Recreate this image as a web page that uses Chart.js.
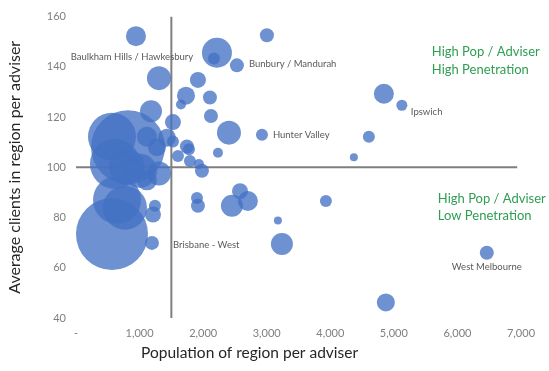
<!DOCTYPE html>
<html>
<head>
<meta charset="utf-8">
<script src="https://cdn.jsdelivr.net/npm/chart.js@4.4.1/dist/chart.umd.min.js"></script>
<style>
  html, body { margin: 0; background: #fff; }
  #wrap { width: 549px; height: 371px; }
</style>
</head>
<body>
<div id="wrap"><canvas id="chart"></canvas></div>
<script>
// bubbles: population per adviser, avg clients per adviser, bubble size (radius)
const popPerAdviser = [
  943, 2217, 2170, 2531, 3003, 1305, 1918, 1730, 1651, 2107,
  2123, 2406, 2925, 2233, 1180, 1525, 4843, 5126, 4607, 4371,
  3931, 3176, 3239, 4874, 6462, 1903, 1918, 2580, 2453, 2704,
  1242, 1211, 1195, 566, 645, 770, 566, 818, 613, 802,
  1006, 1305, 1116, 1116, 1274, 1430, 1525, 1604, 1745, 1777,
  1792, 1934, 1981
];
const clientsPerAdviser = [
  152.2, 145.6, 143.3, 140.6, 152.6, 135.5, 134.8, 128.5, 125.0, 127.8,
  120.4, 113.8, 113.0, 105.8, 122.3, 118.0, 129.3, 124.7, 112.2, 104.0,
  86.6, 78.8, 69.5, 46.2, 66.0, 87.8, 84.7, 90.5, 84.7, 86.6,
  84.7, 81.2, 69.9, 73.4, 87.0, 83.9, 112.2, 108.0, 101.4, 100.2,
  98.6, 97.5, 94.8, 112.2, 108.0, 111.8, 110.3, 104.5, 108.3, 107.2,
  102.5, 101.3, 98.6
];
const bubbleSize = [
  10, 15, 6, 7, 7, 12, 8, 9, 5, 7,
  7, 12, 6, 5, 11, 8, 10, 5.5, 6, 4,
  6, 4, 11, 9, 7, 6, 7, 8, 11, 10,
  6, 8, 7, 36, 24, 22, 24, 37, 25, 18,
  17, 12, 10, 10, 9, 9, 6, 6, 7, 6,
  6, 5, 7
];

const xTickValues = [0, 1000, 2000, 3000, 4000, 5000, 6000, 7000];
const yTickValues = [40, 60, 80, 100, 120, 140, 160];

// quadrant divider lines
const dividerX = 1500;
const dividerY = 100;

// point labels (anchored in data units)
const labelText = ["Baulkham Hills / Hawkesbury", "Bunbury / Mandurah", "Hunter Valley", "Ipswich", "Brisbane - West", "West Melbourne"];
const labelX = [880, 2720, 3097, 5267, 1525, 6462];
const labelY = [144.1, 141.0, 113.0, 121.9, 69.1, 60.2];
const labelAlign = ["center", "left", "left", "left", "left", "center"];

// quadrant notes
const noteText = ["High Pop / Adviser", "High Penetration", "High Pop / Adviser", "Low Penetration"];
const noteX = [5597, 5597, 5692, 5692];
const noteY = [146.0, 139.0, 87.4, 80.8];

const FONT = 'Lato, "Open Sans", sans-serif';
Chart.defaults.font.family = FONT;

const bubbles = popPerAdviser.map((x, i) => ({ x, y: clientsPerAdviser[i], r: bubbleSize[i] }));

const textPlugin = {
  id: "chartText",
  afterDatasetsDraw(chart) {
    const { ctx, scales: { x, y } } = chart;
    ctx.save();
    ctx.textBaseline = "middle";
    ctx.font = `9.5px ${FONT}`;
    ctx.fillStyle = "#595959";
    labelText.forEach((t, i) => {
      ctx.textAlign = labelAlign[i];
      ctx.fillText(t, x.getPixelForValue(labelX[i]), y.getPixelForValue(labelY[i]));
    });
    ctx.font = `13px ${FONT}`;
    ctx.fillStyle = "#2f9e52";
    ctx.textAlign = "left";
    noteText.forEach((t, i) => {
      ctx.fillText(t, x.getPixelForValue(noteX[i]), y.getPixelForValue(noteY[i]));
    });
    // x axis title sits a bit left of centre in the original
    ctx.font = `15.5px ${FONT}`;
    ctx.fillStyle = "#262626";
    ctx.textAlign = "center";
    ctx.fillText("Population of region per adviser", x.getPixelForValue(2730), 353);
    ctx.restore();
  }
};

new Chart(document.getElementById("chart"), {
  type: "bubble",
  data: {
    datasets: [
      {
        data: bubbles,
        backgroundColor: "rgba(68,114,196,0.78)",
        borderWidth: 0,
        clip: false,
        order: 0
      },
      {
        type: "line",
        data: [{ x: dividerX, y: 40 }, { x: dividerX, y: 160 }],
        borderColor: "#7f7f7f",
        borderWidth: 2,
        pointRadius: 0,
        order: 1
      },
      {
        type: "line",
        data: [{ x: 0, y: dividerY }, { x: 6940, y: dividerY }],
        borderColor: "#7f7f7f",
        borderWidth: 2,
        pointRadius: 0,
        order: 1
      }
    ]
  },
  options: {
    responsive: true,
    maintainAspectRatio: false,
    animation: false,
    layout: { autoPadding: false, padding: { left: 0, right: 28, top: 9, bottom: 0 } },
    plugins: { legend: { display: false }, tooltip: { enabled: false } },
    scales: {
      x: {
        type: "linear",
        min: 0,
        max: 7000,
        afterBuildTicks: s => { s.ticks = xTickValues.map(value => ({ value })); },
        afterFit: s => { s.height = 53; },
        grid: { display: false, drawTicks: false },
        border: { display: false },
        ticks: {
          padding: 9,
          color: "#7f7f7f",
          font: { size: 11 },
          callback: v => v === 0 ? "-" : v.toLocaleString("en-US")
        }
      },
      y: {
        type: "linear",
        min: 40,
        max: 160,
        afterBuildTicks: s => { s.ticks = yTickValues.map(value => ({ value })); },
        afterFit: s => { s.width = 76; },
        grid: { display: false, drawTicks: false },
        border: { display: false },
        ticks: { padding: 10, color: "#7f7f7f", font: { size: 11 } },
        title: {
          display: true,
          text: "Average clients in region per adviser",
          color: "#262626",
          font: { size: 16 },
          padding: { top: 5, bottom: 0 }
        }
      }
    }
  },
  plugins: [textPlugin]
});
</script>
</body>
</html>
